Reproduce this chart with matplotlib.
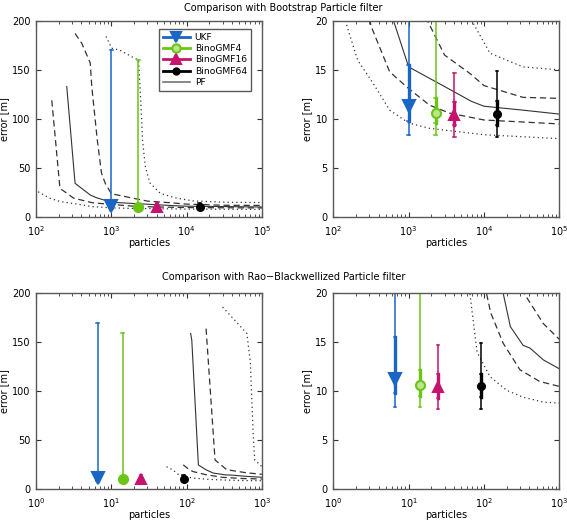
import numpy as np
import matplotlib
matplotlib.use("Agg")
import matplotlib.pyplot as plt
from matplotlib.lines import Line2D

# filtros comparados
methods = ["UKF", "BinoGMF4", "BinoGMF16", "BinoGMF64"]
colors = ["#1a66c4", "#6cc416", "#c8136e", "#000000"]
markers = ["v", "o", "^", "o"]
msizes = [8, 6.5, 7.5, 5]

# numero equivalente de particulas
bs_particles = [1000, 2290, 4050, 14900]
rb_particles = [6.6, 14.1, 24.7, 91]

# percentis do erro [m]
err_med = [11.3, 10.6, 10.45, 10.5]
err_p05 = [8.4, 8.35, 8.15, 8.2]
err_p25 = [9.8, 9.55, 9.35, 9.4]
err_p75 = [15.5, 12.15, 11.75, 11.8]
err_p95 = [170, 160, 14.7, 14.9]

# PF bootstrap (percentis 5, 25, 50, 75, 95)
bs_p05_x = [107, 150, 210, 340, 560, 1000, 1900, 10000, 100000]
bs_p05_y = [26, 19.6, 16, 13.6, 10.9, 9.6, 9.05, 8.4, 8.0]
bs_p25_x = [162, 208, 315, 560, 1000, 1900, 3500, 10000, 100000]
bs_p25_y = [119, 29.5, 19.5, 14.8, 13.1, 11.4, 10.6, 9.9, 9.5]
bs_p50_x = [256, 330, 525, 630, 1000, 3000, 6800, 10000, 33000, 100000]
bs_p50_y = [133, 34.6, 22.7, 20, 15.3, 13.3, 11.8, 11.3, 10.9, 10.5]
bs_p75_x = [330, 405, 525, 550, 650, 740, 830, 1000, 1780, 3000, 6600, 10000, 33000, 100000]
bs_p75_y = [187, 177, 157, 133, 79, 45, 34.6, 24, 20, 16.5, 14.6, 13.4, 12.2, 12.1]
bs_p95_x = [850, 1010, 1300, 1900, 2300, 2450, 2600, 2830, 3250, 4460, 6900, 12000, 33000, 100000]
bs_p95_y = [184, 172, 170, 163, 160, 120, 78, 51, 35, 24.4, 20, 16.7, 15.3, 15.0]

# PF Rao-Blackwellizado
rb_p05_x = [54, 65, 81, 120, 200, 330, 615, 1000]
rb_p05_y = [23, 20, 14, 11.5, 10.1, 9.4, 8.9, 8.8]
rb_p25_x = [90, 108, 123, 180, 300, 550, 1000]
rb_p25_y = [25, 20, 18, 14.9, 12.2, 11, 10.5]
rb_p50_x = [113, 117, 143, 180, 224, 330, 410, 615, 1000]
rb_p50_y = [159, 152, 24.8, 20, 16.6, 14.7, 14.4, 13.2, 12.3]
rb_p75_x = [181, 238, 340, 615, 1000]
rb_p75_y = [164, 30, 20, 16.9, 15.3]
rb_p95_x = [300, 630, 700, 760, 800, 1000]
rb_p95_y = [186, 159, 130, 60, 30, 23]

fs = 7
plt.rcParams["font.family"] = "DejaVu Sans"
plt.rcParams["font.size"] = fs
plt.rcParams["mathtext.fontset"] = "dejavusans"

fig = plt.figure(figsize=(5.67, 5.21), dpi=100)
W, H = 567.0, 521.0


def make_ax(x0, top, bottom):
    return fig.add_axes([x0 / W, 1 - bottom / H, 226 / W, (bottom - top) / H])


ax_tl = make_ax(36, 20.7, 217.3)
ax_tr = make_ax(333.3, 20.7, 217.3)
ax_bl = make_ax(36, 293.3, 489.3)
ax_br = make_ax(333.3, 293.3, 489.3)

# estilo das curvas do PF: pontilhado, tracejado, continuo, tracejado, pontilhado
pf_style = [(1, 2.5), (5, 3), None, (5, 3), (1, 2.5)]


def draw(ax, xs, ys, parts, xlim, ylim, light):
    for x, y, d in zip(xs, ys, pf_style):
        if d is None:
            ax.plot(x, y, color="0.2", linewidth=0.8)
        else:
            ax.plot(x, y, color="0.2", linewidth=0.9, dashes=d)
    for i in range(len(methods)):
        p = parts[i]
        ax.plot([p, p], [err_p05[i], err_p95[i]], color=colors[i], lw=1.1)
        ax.plot([p, p], [err_p25[i], err_p75[i]], color=colors[i], lw=2.4)
        for v in [err_p05[i], err_p25[i], err_p75[i], err_p95[i]]:
            ax.plot([p / 1.04, p * 1.04], [v, v], color=colors[i], lw=1.1)
        face = "#b9e68c" if (light and i == 1) else colors[i]
        ax.plot(p, err_med[i], marker=markers[i], color=colors[i], mfc=face,
                mew=1.5, ms=msizes[i], linestyle="none")
    ax.set_xscale("log")
    ax.set_xlim(*xlim)
    ax.set_ylim(*ylim)
    ax.set_xlabel("particles", fontsize=fs, labelpad=0)
    ax.set_ylabel("error [m]", fontsize=fs, labelpad=2)
    ax.tick_params(which="both", direction="in", top=True, right=True, labelsize=fs,
                   color="0.2")
    ax.tick_params(axis="x", which="both", pad=5)
    ax.tick_params(axis="y", which="both", pad=4)
    ax.tick_params(which="major", length=3.5)
    ax.tick_params(which="minor", length=2)
    for s in ax.spines.values():
        s.set_color("0.35")
        s.set_linewidth(1.0)


bs_x = [bs_p05_x, bs_p25_x, bs_p50_x, bs_p75_x, bs_p95_x]
bs_y = [bs_p05_y, bs_p25_y, bs_p50_y, bs_p75_y, bs_p95_y]
rb_x = [rb_p05_x, rb_p25_x, rb_p50_x, rb_p75_x, rb_p95_x]
rb_y = [rb_p05_y, rb_p25_y, rb_p50_y, rb_p75_y, rb_p95_y]

draw(ax_tl, bs_x, bs_y, bs_particles, (1e2, 1e5), (0, 200), False)
draw(ax_tr, bs_x, bs_y, bs_particles, (1e2, 1e5), (0, 20), True)
draw(ax_bl, rb_x, rb_y, rb_particles, (1e0, 1e3), (0, 200), False)
draw(ax_br, rb_x, rb_y, rb_particles, (1e0, 1e3), (0, 20), True)

for ax in [ax_tl, ax_bl]:
    ax.set_yticks([0, 50, 100, 150, 200])
for ax in [ax_tr, ax_br]:
    ax.set_yticks([0, 5, 10, 15, 20])

handles = []
for i in range(len(methods)):
    face = "#b9e68c" if i == 1 else colors[i]
    handles.append(Line2D([0], [0], color=colors[i], marker=markers[i], mfc=face,
                          mew=1.5, ms=msizes[i] - 0.5, lw=2))
handles.append(Line2D([0], [0], color="0.45", lw=1.2))
leg = ax_tl.legend(handles, methods + ["PF"], loc="upper right", fontsize=6.6,
                   handlelength=3.0, borderpad=0.4, labelspacing=0.25,
                   handletextpad=0.5, bbox_to_anchor=(0.97, 0.98), fancybox=False,
                   framealpha=1)
leg.get_frame().set_edgecolor("0.35")
leg.get_frame().set_linewidth(1.0)

fig.text(0.5, 1 - 8 / H, "Comparison with Bootstrap Particle filter",
         ha="center", va="center", fontsize=fs)
fig.text(0.5, 1 - 276.5 / H, "Comparison with Rao\u2212Blackwellized Particle filter",
         ha="center", va="center", fontsize=fs)

fig.savefig("out.png", dpi=100)
